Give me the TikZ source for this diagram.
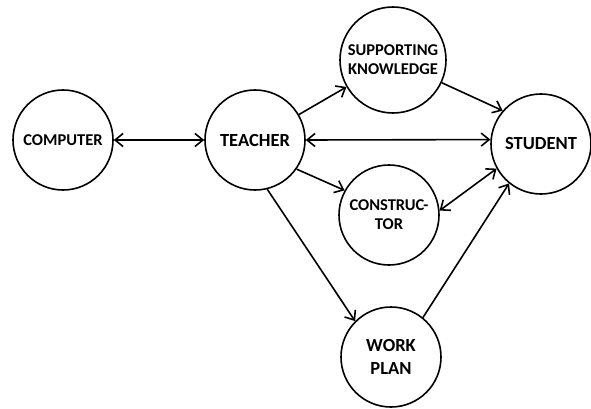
\documentclass[tikz,border=0pt]{standalone}
\usepackage{fontspec}
\setmainfont{Carlito}
\usetikzlibrary{positioning}
\usetikzlibrary{arrows.meta}

\tikzset{
  circ/.style={circle, draw, line width=1.6pt, minimum size=100pt, inner sep=0pt, align=center},
  small/.style={font=\bfseries\fontsize{16.5}{19}\selectfont},
  big/.style={font=\bfseries\fontsize{18.5}{23}\selectfont},
  link/.style={line width=1.6pt, -{Straight Barb[length=8pt,width=13pt,line width=1.6pt]}},
  both/.style={link, {Straight Barb[length=8pt,width=13pt,line width=1.6pt]}-{Straight Barb[length=8pt,width=13pt,line width=1.6pt]}}
}

\begin{document}
\begin{tikzpicture}[on grid]
\useasboundingbox (0,0) rectangle (591pt,-409pt);
% Define nodes
% Left nodes
\node[circ, small] (computer) at (63pt,-140pt) {COMPUTER};
\node[circ, big, right=192pt of computer] (teacher) {TEACHER};
% Middle nodes
\node[circ, small, minimum size=106pt, above right=80pt and 138pt of teacher] (knowledge) {SUPPORTING\\KNOWLEDGE};
\node[circ, small, below right=75pt and 134pt of teacher] (constructor) {CONSTRUC-\\TOR};
\node[circ, big, below right=142pt and 2pt of constructor] (plan) {WORK\\PLAN};
% Right node
\node[circ, big, below right=4pt and 286pt of teacher] (student) {STUDENT};

% Edges
\draw[both] (computer) -- (teacher);
\draw[both] (teacher.east) -- (student.175);
\draw[link] (teacher) -- (knowledge);
\draw[link] (knowledge.-25) -- (student.139);
\draw[link] (teacher.-35) -- (constructor.151);
\draw[both] (student.209) -- (constructor.5);
\draw[link] (teacher.284) -- (plan.135);
\draw[link] (plan.51) -- (student.231);
\end{tikzpicture}
\end{document}
